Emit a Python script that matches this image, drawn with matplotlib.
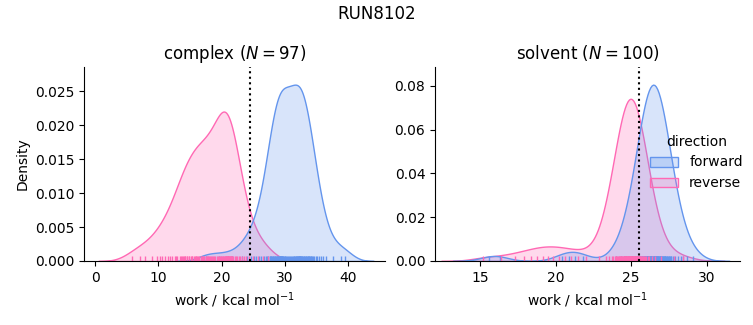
import pandas as pd
import matplotlib
matplotlib.use('Agg')
import matplotlib.pyplot as plt
import seaborn as sns

# Non-equilibrium work values (kcal/mol) per phase and direction
complex_forward = [
    17.5, 19.6, 21.6,
    23.2, 24.0, 24.6, 25.1, 25.5, 25.9, 26.3, 26.7, 27.0, 27.2, 27.4,
    27.6, 27.7, 27.8, 27.9, 28.0, 28.1, 28.2, 28.3, 28.4, 28.5, 28.6, 28.7,
    28.8, 28.9, 29.0, 29.1, 29.2, 29.25, 29.3, 29.35, 29.4, 29.45, 29.5, 29.55, 29.6, 29.7,
    29.8, 29.9, 30.0, 30.1, 30.25, 30.4, 30.55, 30.7, 30.85, 31.0, 31.15, 31.3,
    31.45, 31.5, 31.6, 31.7, 31.8, 31.9, 32.0, 32.05, 32.1, 32.2, 32.25, 32.3, 32.35, 32.4,
    32.45, 32.5, 32.6, 32.7, 32.8, 32.9, 33.0, 33.1, 33.2, 33.3, 33.4, 33.5,
    33.6, 33.7, 33.8, 33.9, 34.0, 34.1, 34.2,
    34.35, 34.5, 34.7, 34.9, 35.15, 35.4, 35.7, 36.1, 36.6,
    37.6, 38.9, 39.6,
]
complex_reverse = [
    5.8, 7.1, 7.9, 9.0, 9.8,
    10.2, 10.6, 11.0, 11.6, 11.9,
    12.1, 12.6, 12.8, 13.0, 13.4, 13.6, 13.8, 13.9,
    14.0, 14.2, 14.3, 14.5, 14.6, 14.8, 14.9, 15.1, 15.3, 15.4, 15.6, 15.8, 15.9,
    16.0, 16.2, 16.3, 16.5, 16.7, 16.8, 16.9, 17.0, 17.2, 17.3, 17.5, 17.6, 17.7, 17.8, 17.9,
    18.1, 18.2, 18.3, 18.5, 18.6, 18.8, 19.0, 19.3, 19.45, 19.6, 19.75, 19.9, 19.95,
    20.0, 20.2, 20.3, 20.4, 20.5, 20.6, 20.65, 20.7, 20.75, 20.8, 20.9,
    20.95, 21.0, 21.05, 21.1, 21.2, 21.25, 21.3, 21.4, 21.45, 21.5, 21.55,
    21.6, 21.7, 21.85,
    22.1, 22.3, 22.5, 22.8, 23.0, 23.3, 23.6, 23.9,
    24.4, 25.0, 25.7, 26.5, 27.4,
]
solvent_forward = [
    15.6, 16.3, 20.4, 20.9, 21.3, 21.8,
    24.0, 24.32, 24.5, 24.64, 24.88, 25.04, 25.12, 25.24,
    25.28, 25.36, 25.4, 25.44, 25.52, 25.56, 25.6, 25.64,
    25.68, 25.72, 25.76, 25.78, 25.82, 25.84, 25.88, 25.92, 25.94, 25.97, 26.0, 26.02, 26.05, 26.07,
    26.08, 26.1, 26.12, 26.14, 26.16, 26.18, 26.21, 26.24, 26.26, 26.28,
    26.3, 26.32, 26.34, 26.37, 26.4, 26.46, 26.47,
    26.48, 26.5, 26.52, 26.54, 26.56, 26.58, 26.61, 26.64, 26.66,
    26.68, 26.7, 26.72, 26.74, 26.77, 26.8, 26.82, 26.85, 26.87,
    26.88, 26.91, 26.94, 26.98, 27.01, 27.04, 27.07, 27.1, 27.14, 27.17, 27.2, 27.23, 27.26,
    27.3, 27.34, 27.38, 27.42, 27.47, 27.52, 27.57, 27.62, 27.66,
    27.76, 27.92, 28.08, 28.3, 28.4, 28.7, 29.1,
]
solvent_reverse = [
    15.2, 16.4, 17.3, 17.9, 18.4, 18.8, 19.2, 19.5, 19.8, 20.2, 20.6, 21.0, 21.5, 22.0,
    22.9, 23.3, 23.55, 23.7, 23.8, 23.9, 23.98, 24.0, 24.05, 24.12, 24.18, 24.2,
    24.23, 24.28, 24.33, 24.35, 24.37, 24.41, 24.45, 24.49, 24.5, 24.52, 24.56, 24.59,
    24.62, 24.65, 24.66, 24.68, 24.71, 24.74, 24.76, 24.78, 24.79, 24.81, 24.84, 24.86,
    24.89, 24.9, 24.91, 24.93, 24.95, 24.97, 24.99, 25.0, 25.01, 25.03, 25.05, 25.07,
    25.09, 25.11, 25.12, 25.13, 25.15, 25.18, 25.2, 25.22, 25.24, 25.25, 25.27, 25.3,
    25.32, 25.35, 25.38, 25.4, 25.41, 25.44, 25.47, 25.5, 25.54, 25.58, 25.6, 25.62,
    25.66, 25.7, 25.75, 25.8, 25.86, 25.92, 26.0, 26.1, 26.2, 26.35, 26.6, 27.0, 27.8, 28.4,
]

# free energy estimate per phase (dotted line)
dg = {'complex': 24.5, 'solvent': 25.5}
n_pairs = {'complex': 97, 'solvent': 100}
palette = {'forward': 'cornflowerblue', 'reverse': 'hotpink'}

rows = []
for phase, direction, works in [('complex', 'forward', complex_forward),
                                ('complex', 'reverse', complex_reverse),
                                ('solvent', 'forward', solvent_forward),
                                ('solvent', 'reverse', solvent_reverse)]:
    for w in works:
        rows.append({'phase': phase, 'direction': direction, 'work': w})
df = pd.DataFrame(rows)

g = sns.displot(df, x='work', col='phase', hue='direction', kind='kde',
                fill=True, rug=True, palette=palette,
                hue_order=['forward', 'reverse'], col_order=['complex', 'solvent'],
                facet_kws=dict(sharex=False, sharey=False))

fig = g.figure
fig.set_size_inches(7.53, 3.25)

ax_c, ax_s = g.axes[0]
# left and right panel positions
ax_c.set_position([84 / 753, 1 - 261 / 325, (385 - 84) / 753, (261 - 67) / 325])
ax_s.set_position([435 / 753, 1 - 261 / 325, (740 - 435) / 753, (261 - 67) / 325])

for ax, phase in [(ax_c, 'complex'), (ax_s, 'solvent')]:
    ax.axvline(dg[phase], color='k', ls=':')
    ax.set_title(f"{phase} ($N = {n_pairs[phase]}$)", fontsize=12)
    ax.set_xlabel("work / kcal mol$^{-1}$")

ax_c.set_xlim(-1.74, 45.85)
ax_s.set_xlim(12.03, 32.19)
ax_c.set_ylabel("Density")

sns.move_legend(g, 'center left', bbox_to_anchor=(0.847, 0.5), frameon=False)
fig.suptitle("RUN8102", fontsize=12, y=0.985)

fig.savefig('out.png', dpi=100)
